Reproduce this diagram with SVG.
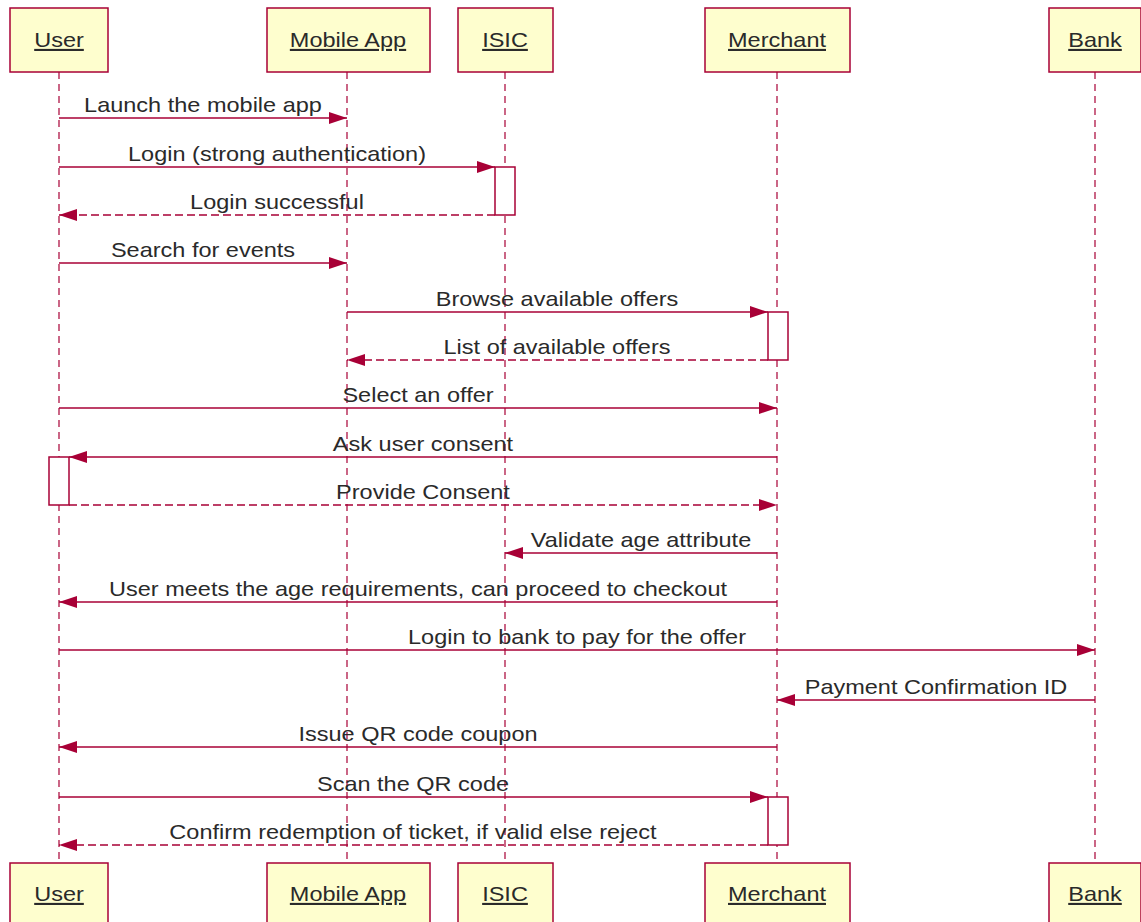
<svg xmlns="http://www.w3.org/2000/svg" width="1141" height="922" viewBox="0 0 1141 922">
<style>
.box{fill:#FEFECE;stroke:#A80036;stroke-width:1.5}
.pt{font-family:"Liberation Sans",Arial,sans-serif;font-size:21px;fill:#2a2a2a;text-anchor:middle;text-decoration:underline}
.life{stroke:#A80036;stroke-width:1.2;stroke-dasharray:7,5;fill:none}
.act{fill:#FFFFFF;stroke:#A80036;stroke-width:1.5}
.msg{stroke:#A80036;stroke-width:1.5;fill:none;marker-end:url(#ah)}
.dash{stroke-dasharray:8,4}
.mt{font-family:"Liberation Sans",Arial,sans-serif;font-size:21px;fill:#2a2a2a;text-anchor:middle}
</style>
<defs>
<marker id="ah" viewBox="0 0 18 12" refX="18" refY="6" markerWidth="18" markerHeight="12" markerUnits="userSpaceOnUse" orient="auto">
<path d="M0,0 L18,6 L0,12 Z" fill="#A80036"/>
</marker>
</defs>
<rect width="1141" height="922" fill="#FFFFFF"/>
<g id="lifelines">
<line class="life" x1="59" y1="72" x2="59" y2="863"/>
<line class="life" x1="347" y1="72" x2="347" y2="863"/>
<line class="life" x1="505" y1="72" x2="505" y2="863"/>
<line class="life" x1="777" y1="72" x2="777" y2="863"/>
<line class="life" x1="1095" y1="72" x2="1095" y2="863"/>
</g>
<g id="activations">
<rect class="act" x="495" y="167" width="20" height="48"/>
<rect class="act" x="768" y="312" width="20" height="48"/>
<rect class="act" x="49" y="457" width="20" height="48"/>
<rect class="act" x="768" y="797" width="20" height="48"/>
</g>
<g id="node-user">
<rect class="box" x="10" y="8" width="98" height="64"/>
<text class="pt" transform="translate(59 47) scale(1.12 1)">User</text>
<rect class="box" x="10" y="863" width="98" height="64"/>
<text class="pt" transform="translate(59 901) scale(1.12 1)">User</text>
</g>
<g id="node-mobile">
<rect class="box" x="267" y="8" width="163" height="64"/>
<text class="pt" transform="translate(348 47) scale(1.12 1)">Mobile App</text>
<rect class="box" x="267" y="863" width="163" height="64"/>
<text class="pt" transform="translate(348 901) scale(1.12 1)">Mobile App</text>
</g>
<g id="node-isic">
<rect class="box" x="458" y="8" width="95" height="64"/>
<text class="pt" transform="translate(505 47) scale(1.12 1)">ISIC</text>
<rect class="box" x="458" y="863" width="95" height="64"/>
<text class="pt" transform="translate(505 901) scale(1.12 1)">ISIC</text>
</g>
<g id="node-merchant">
<rect class="box" x="705" y="8" width="145" height="64"/>
<text class="pt" transform="translate(777 47) scale(1.12 1)">Merchant</text>
<rect class="box" x="705" y="863" width="145" height="64"/>
<text class="pt" transform="translate(777 901) scale(1.12 1)">Merchant</text>
</g>
<g id="node-bank">
<rect class="box" x="1049" y="8" width="92" height="64"/>
<text class="pt" transform="translate(1095 47) scale(1.12 1)">Bank</text>
<rect class="box" x="1049" y="863" width="92" height="64"/>
<text class="pt" transform="translate(1095 901) scale(1.12 1)">Bank</text>
</g>
<g id="connectors">
<line class="msg" x1="59" y1="118" x2="347" y2="118"/>
<text class="mt" transform="translate(203 112) scale(1.12 1)">Launch the mobile app</text>
<line class="msg" x1="59" y1="167" x2="495" y2="167"/>
<text class="mt" transform="translate(277 161) scale(1.12 1)">Login (strong authentication)</text>
<line class="msg dash" x1="495" y1="215" x2="59" y2="215"/>
<text class="mt" transform="translate(277 209) scale(1.12 1)">Login successful</text>
<line class="msg" x1="59" y1="263" x2="347" y2="263"/>
<text class="mt" transform="translate(203 257) scale(1.12 1)">Search for events</text>
<line class="msg" x1="347" y1="312" x2="768" y2="312"/>
<text class="mt" transform="translate(557 306) scale(1.12 1)">Browse available offers</text>
<line class="msg dash" x1="768" y1="360" x2="347" y2="360"/>
<text class="mt" transform="translate(557 354) scale(1.12 1)">List of available offers</text>
<line class="msg" x1="59" y1="408" x2="777" y2="408"/>
<text class="mt" transform="translate(418 402) scale(1.12 1)">Select an offer</text>
<line class="msg" x1="777" y1="457" x2="69" y2="457"/>
<text class="mt" transform="translate(423 451) scale(1.12 1)">Ask user consent</text>
<line class="msg dash" x1="69" y1="505" x2="777" y2="505"/>
<text class="mt" transform="translate(423 499) scale(1.12 1)">Provide Consent</text>
<line class="msg" x1="777" y1="553" x2="505" y2="553"/>
<text class="mt" transform="translate(641 547) scale(1.12 1)">Validate age attribute</text>
<line class="msg" x1="777" y1="602" x2="59" y2="602"/>
<text class="mt" transform="translate(418 596) scale(1.12 1)">User meets the age requirements, can proceed to checkout</text>
<line class="msg" x1="59" y1="650" x2="1095" y2="650"/>
<text class="mt" transform="translate(577 644) scale(1.12 1)">Login to bank to pay for the offer</text>
<line class="msg" x1="1095" y1="700" x2="777" y2="700"/>
<text class="mt" transform="translate(936 694) scale(1.12 1)">Payment Confirmation ID</text>
<line class="msg" x1="777" y1="747" x2="59" y2="747"/>
<text class="mt" transform="translate(418 741) scale(1.12 1)">Issue QR code coupon</text>
<line class="msg" x1="59" y1="797" x2="768" y2="797"/>
<text class="mt" transform="translate(413 791) scale(1.12 1)">Scan the QR code</text>
<line class="msg dash" x1="768" y1="845" x2="59" y2="845"/>
<text class="mt" transform="translate(413 839) scale(1.12 1)">Confirm redemption of ticket, if valid else reject</text>
</g>
</svg>
